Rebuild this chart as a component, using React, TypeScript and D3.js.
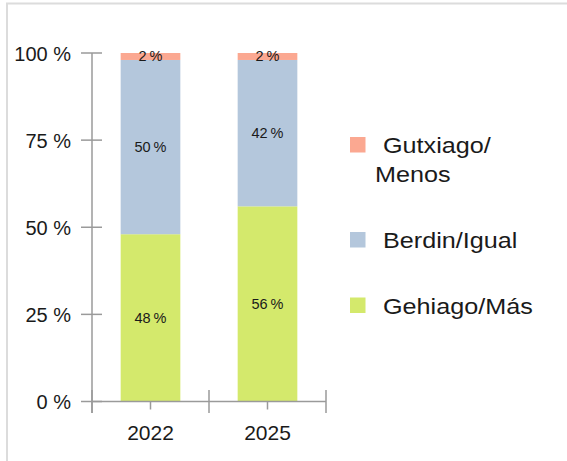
import React from "react";
import * as d3 from "d3";

const categories = ["2022", "2025"];
const seriesNames = ["Gehiago/Más", "Berdin/Igual", "Gutxiago/Menos"];
const gehiago = [48, 56];
const berdin = [50, 42];
const gutxiago = [2, 2];
const yTicks = [0, 25, 50, 75, 100];
const colors = ["#D4E96C", "#B4C7DC", "#FBA891"];
const legendLines = [["Gutxiago/", "Menos"], ["Berdin/Igual"], ["Gehiago/Más"]];
const legendColors = ["#FBA891", "#B4C7DC", "#D4E96C"];

const W = 567;
const H = 461;
const FONT = "'Liberation Sans', Arial, sans-serif";

export default function App() {
  const y = d3.scaleLinear().domain([0, 100]).range([401.5, 53]);
  const x = d3.scaleBand<string>().domain(categories).range([92, 326]).padding(0);
  const barW = x.bandwidth() * 0.51;
  const rows = categories.map((c, i) => ({ cat: c, g: gehiago[i], b: berdin[i], m: gutxiago[i] }));
  const stack = d3.stack<any>().keys(["g", "b", "m"])(rows);
  const axisColor = "#9a9a9a";

  return (
    <svg
      width={W}
      height={H}
      style={{ position: "absolute", left: 0, top: 0, background: "#fff" }}
      fontFamily={FONT}
    >
      <rect x={7} y={3.5} width={W + 10} height={H + 10} fill="none" stroke="#dcdcdc" strokeWidth={2} />
      {/* bars */}
      {stack.map((s, si) =>
        s.map((d, i) => {
          const cx = (x(categories[i]) as number) + x.bandwidth() / 2;
          const y0 = y(d[0]);
          const y1 = y(d[1]);
          const val = d[1] - d[0];
          return (
            <g key={`${si}-${i}`}>
              <rect x={cx - barW / 2} y={y1} width={barW} height={y0 - y1} fill={colors[si]} />
              <text
                x={cx}
                y={(y0 + y1) / 2 + 5}
                textAnchor="middle"
                fontSize={14.5}
                fill="#1a1a1a"
              >
                {`${val}\u202F%`}
              </text>
            </g>
          );
        })
      )}
      {/* y axis */}
      <line x1={92} x2={92} y1={y(100)} y2={413} stroke={axisColor} strokeWidth={1.5} />
      {yTicks.map((t) => (
        <g key={t}>
          <line x1={81} x2={102} y1={y(t)} y2={y(t)} stroke={axisColor} strokeWidth={1.5} />
          <text x={71} y={y(t) + 7.5} textAnchor="end" fontSize={20} fill="#1a1a1a">
            {`${t} %`}
          </text>
        </g>
      ))}
      {/* x axis */}
      <line x1={92} x2={326} y1={y(0)} y2={y(0)} stroke={axisColor} strokeWidth={1.5} />
      {[...categories.map((c) => x(c) as number), 326].map((bx, i) => (
        <line key={`b${i}`} x1={bx} x2={bx} y1={390} y2={413} stroke={axisColor} strokeWidth={1.5} />
      ))}
      {categories.map((c) => {
        const cx = (x(c) as number) + x.bandwidth() / 2;
        return (
          <g key={c}>
            <line x1={cx} x2={cx} y1={y(0)} y2={409.5} stroke={axisColor} strokeWidth={1.5} />
            <text x={cx} y={440} textAnchor="middle" fontSize={21} fill="#1a1a1a">
              {c}
            </text>
          </g>
        );
      })}
      {/* legend */}
      {legendLines.map((lines, i) => {
        const sqY = [137, 232, 297.5][i];
        return (
          <g key={i}>
            <rect x={350} y={sqY} width={15.5} height={15.5} fill={legendColors[i]} />
            {lines.map((ln, j) => (
              <text
                key={j}
                transform={`translate(${j === 0 ? 383 : 375},${sqY + 16 + j * 29}) scale(1.12,1)`}
                fontSize={22.5}
                fill="#1a1a1a"
              >
                {ln}
              </text>
            ))}
          </g>
        );
      })}
    </svg>
  );
}
